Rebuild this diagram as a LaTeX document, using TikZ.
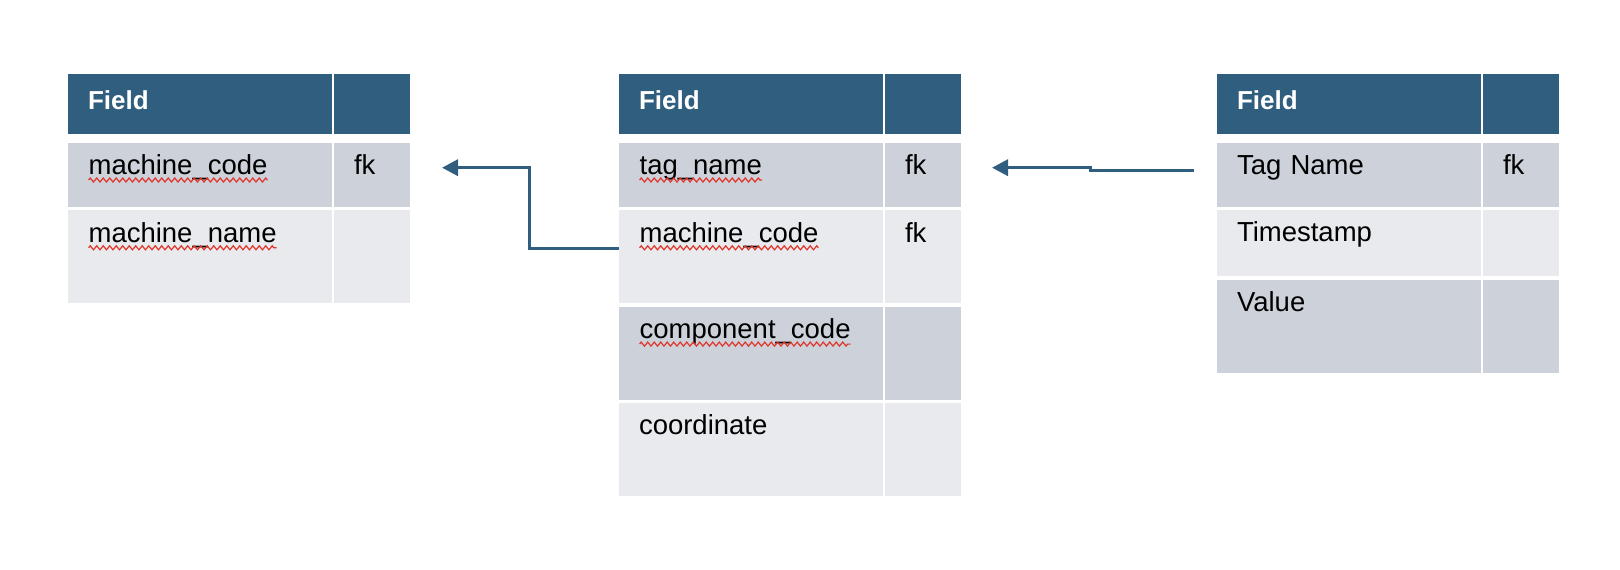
\documentclass[tikz,border=0pt]{standalone}
\usepackage{fontspec}
\setmainfont{Liberation Sans}
\usepackage{tikz}
\usetikzlibrary{arrows.meta,positioning,decorations.pathmorphing}

\definecolor{hdrblue}{HTML}{305E7E}
\definecolor{rowdark}{HTML}{CDD2DA}
\definecolor{rowlight}{HTML}{E8EAED}
\definecolor{squigred}{HTML}{E0352B}

% spell-check style wavy underline
\newcommand\sq[1]{\tikz[baseline=(w.base)]{\node[inner sep=0pt,text width=,text height=,text depth=,at={(0,0)},anchor=base west] (w) {#1};
  \draw[squig] ([yshift=-5.5pt]w.base west) -- ([yshift=-5.5pt]w.base east);}}

\begin{document}
\begin{tikzpicture}[
   x=1pt, y=-1pt,
   cell/.style={inner xsep=20pt,inner ysep=0pt,outer sep=0pt,align=left,font=\fontsize{27.5}{33}\selectfont},
   fieldcell/.style={cell,text width=223.5pt},
   keycell/.style={cell,text width=36pt},
   hdr/.style={fill=hdrblue,text=white,font=\bfseries\fontsize{26}{31}\selectfont,text height=35pt,text depth=25pt},
   short/.style={text height=31.5pt,text depth=32.5pt},
   tall/.style={text height=32pt,text depth=61pt},
   dark/.style={fill=rowdark},
   light/.style={fill=rowlight},
   squig/.style={draw=squigred,line width=1.2pt,decorate,decoration={zigzag,amplitude=2pt,segment length=6.5pt}},
   link/.style={draw=hdrblue,line width=3.5pt},
   >={Triangle[length=16pt,width=16pt]}]
  \useasboundingbox (0,0) rectangle (1620,570);

  % machines
  \node[fieldcell,hdr,anchor=north west] (t1h) at (68,74.3) {Field};
  \node[keycell,hdr,right=2.5pt of t1h] (t1hk) {};
  \node[fieldcell,short,dark,below=8.7pt of t1h] (t1a) {\sq{machine\_code}};
  \node[keycell,short,dark,right=2.5pt of t1a] (t1ak) {fk};
  \node[fieldcell,tall,light,below=3.3pt of t1a] (t1b) {\sq{machine\_name}};
  \node[keycell,tall,light,right=2.5pt of t1b] (t1bk) {};

  % tags
  \node[fieldcell,hdr,anchor=north west] (t2h) at (619,74.3) {Field};
  \node[keycell,hdr,right=2.5pt of t2h] (t2hk) {};
  \node[fieldcell,short,dark,below=8.7pt of t2h] (t2a) {\sq{tag\_name}};
  \node[keycell,short,dark,right=2.5pt of t2a] (t2ak) {fk};
  \node[fieldcell,tall,light,below=3.3pt of t2a] (t2b) {\sq{machine\_code}};
  \node[keycell,tall,light,right=2.5pt of t2b] (t2bk) {fk};
  \node[fieldcell,tall,dark,below=3.3pt of t2b] (t2c) {\sq{component\_code}};
  \node[keycell,tall,dark,right=2.5pt of t2c] (t2ck) {};
  \node[fieldcell,tall,light,below=3.3pt of t2c] (t2d) {coordinate};
  \node[keycell,tall,light,right=2.5pt of t2d] (t2dk) {};

  % values
  \node[fieldcell,hdr,anchor=north west] (t3h) at (1217,74.3) {Field};
  \node[keycell,hdr,right=2.5pt of t3h] (t3hk) {};
  \node[fieldcell,short,dark,below=8.7pt of t3h] (t3a) {Tag Name};
  \node[keycell,short,dark,right=2.5pt of t3a] (t3ak) {fk};
  \node[fieldcell,short,light,text depth=34.5pt,below=3.3pt of t3a] (t3b) {Timestamp};
  \node[keycell,short,light,text depth=34.5pt,right=2.5pt of t3b] (t3bk) {};
  \node[fieldcell,tall,dark,below=3.3pt of t3b] (t3c) {Value};
  \node[keycell,tall,dark,right=2.5pt of t3c] (t3ck) {};

  % links
  \coordinate (in1) at ([xshift=32pt,yshift=7.3pt]t1ak.east);
  \coordinate (out1) at ([yshift=8.5pt]t2b.west);
  \coordinate (in2) at ([xshift=31pt,yshift=7.3pt]t2ak.east);
  \coordinate (out2) at ([xshift=-23pt,yshift=4.3pt]t3a.west);
  \draw[link,->] (out1) -- ++(-89.5,0) |- (in1);
  \draw[link,->] (out2) -- ++(-103.5,0) |- (in2);
\end{tikzpicture}
\end{document}
